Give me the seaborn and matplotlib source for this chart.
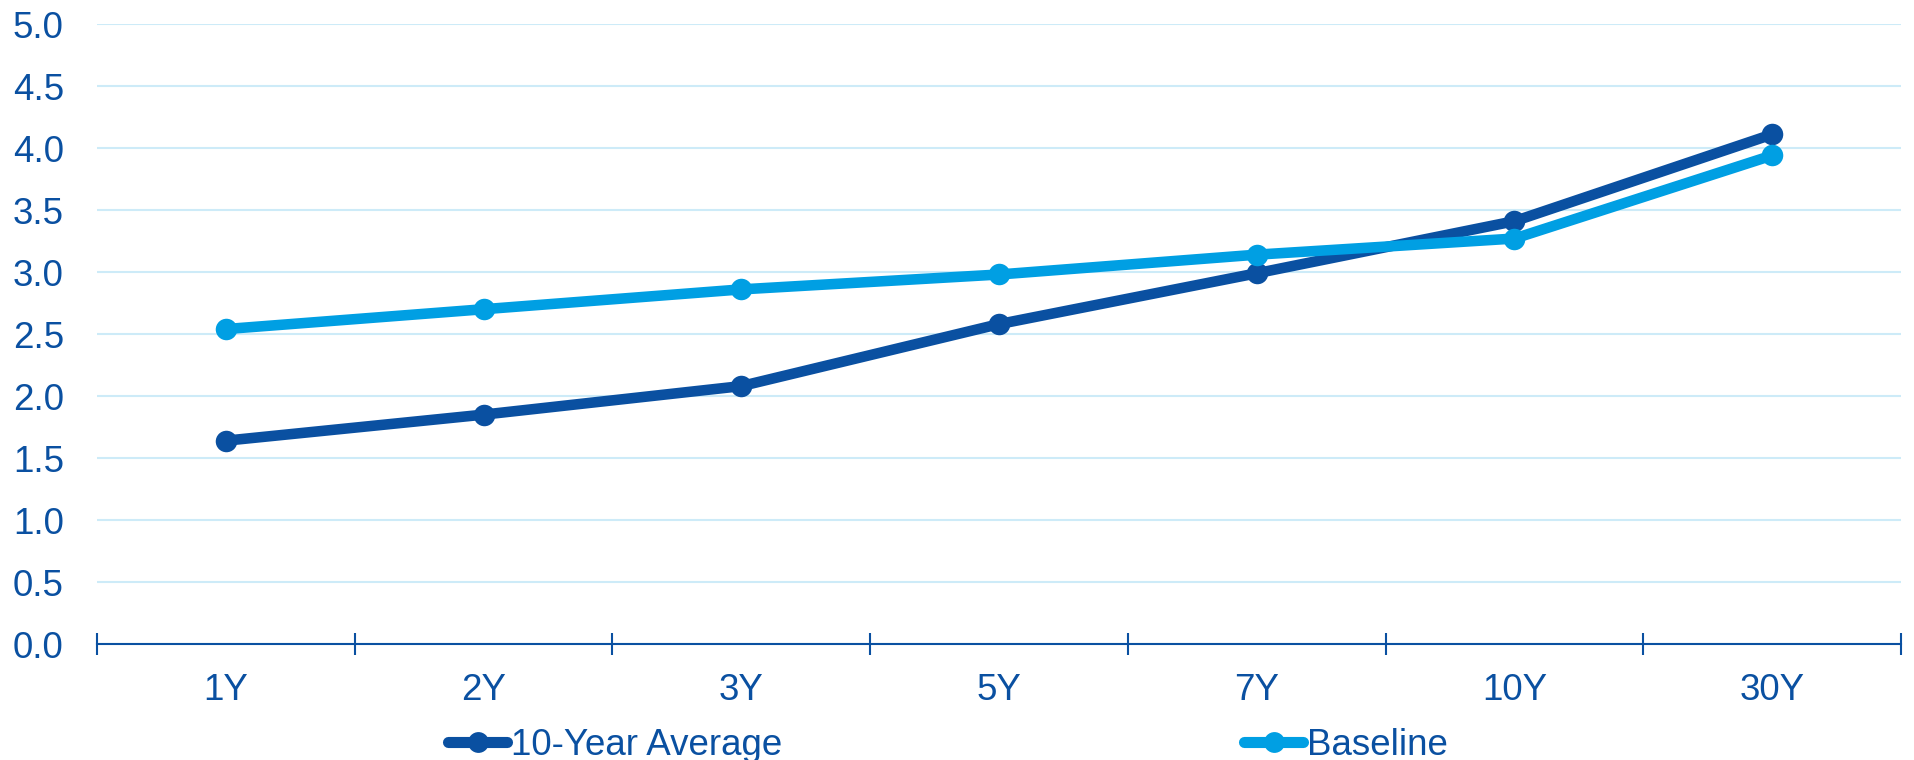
import matplotlib
matplotlib.use("Agg")
import matplotlib.pyplot as plt
import seaborn as sns
import pandas as pd
import numpy as np

# Yield curve data (%)
tenors = ["1Y", "2Y", "3Y", "5Y", "7Y", "10Y", "30Y"]
ten_year_average = [1.64, 1.85, 2.08, 2.58, 2.99, 3.41, 4.11]
baseline = [2.54, 2.70, 2.86, 2.98, 3.14, 3.27, 3.94]
series_names = ["10-Year Average", "Baseline"]
y_ticks = [0.0, 0.5, 1.0, 1.5, 2.0, 2.5, 3.0, 3.5, 4.0, 4.5, 5.0]

DARK = "#0A50A1"
LIGHT = "#009FE3"
GRID = "#CDEBF8"

sns.set_theme(style="white")
plt.rcParams["font.family"] = ["Liberation Sans", "DejaVu Sans"]

df = pd.DataFrame({
    "tenor": tenors * 2,
    "pos": list(range(len(tenors))) * 2,
    "value": ten_year_average + baseline,
    "series": [series_names[0]] * len(tenors) + [series_names[1]] * len(tenors),
})

fig = plt.figure(figsize=(19.15, 7.6), dpi=100)
ax = fig.add_axes([0.0507, 0.1526, 0.942, 0.8158])

sns.lineplot(data=df, x="pos", y="value", hue="series",
             palette={series_names[0]: DARK, series_names[1]: LIGHT},
             marker="o", markersize=15.5, markeredgewidth=0, linewidth=7.6,
             ax=ax, legend=False, zorder=3)

ax.set_xlim(-0.5, len(tenors) - 0.5)
ax.set_ylim(0, 5.0)
ax.set_xlabel("")
ax.set_ylabel("")

# Horizontal gridlines
ax.set_yticks(y_ticks)
ax.set_yticklabels([f"{v:.1f}" for v in y_ticks])
ax.yaxis.grid(True, color=GRID, linewidth=1.5)
ax.xaxis.grid(False)
ax.set_axisbelow(True)
ax.tick_params(axis="y", left=False, length=0, pad=24, labelsize=26.5,
               labelcolor=DARK)

# Category axis: ticks on boundaries, labels centred in each category
ax.set_xticks(np.arange(-0.5, len(tenors), 1.0))
ax.set_xticklabels([])
ax.tick_params(axis="x", which="major", bottom=True, direction="inout",
               length=16, width=1.5, color=DARK)
ax.set_xticks(range(len(tenors)), labels=tenors, minor=True)
ax.tick_params(axis="x", which="minor", bottom=True, length=0, pad=21,
               labelsize=26.5, labelcolor=DARK)

for side in ["top", "right", "left"]:
    ax.spines[side].set_visible(False)
ax.spines["bottom"].set_color(DARK)
ax.spines["bottom"].set_linewidth(1.5)

handles = [
    plt.Line2D([], [], color=DARK, linewidth=8, marker="o", markersize=15,
               markeredgewidth=0, solid_capstyle="round"),
    plt.Line2D([], [], color=LIGHT, linewidth=8, marker="o", markersize=15,
               markeredgewidth=0, solid_capstyle="round"),
]
leg = fig.legend(handles, series_names, loc="center", ncol=2,
                 bbox_to_anchor=(0.495, 0.019), frameon=False,
                 fontsize=26.5, handlelength=1.6, handletextpad=0.1,
                 columnspacing=12.55, borderpad=0)
for t in leg.get_texts():
    t.set_color(DARK)

fig.savefig("out.png", dpi=100, facecolor="white")
